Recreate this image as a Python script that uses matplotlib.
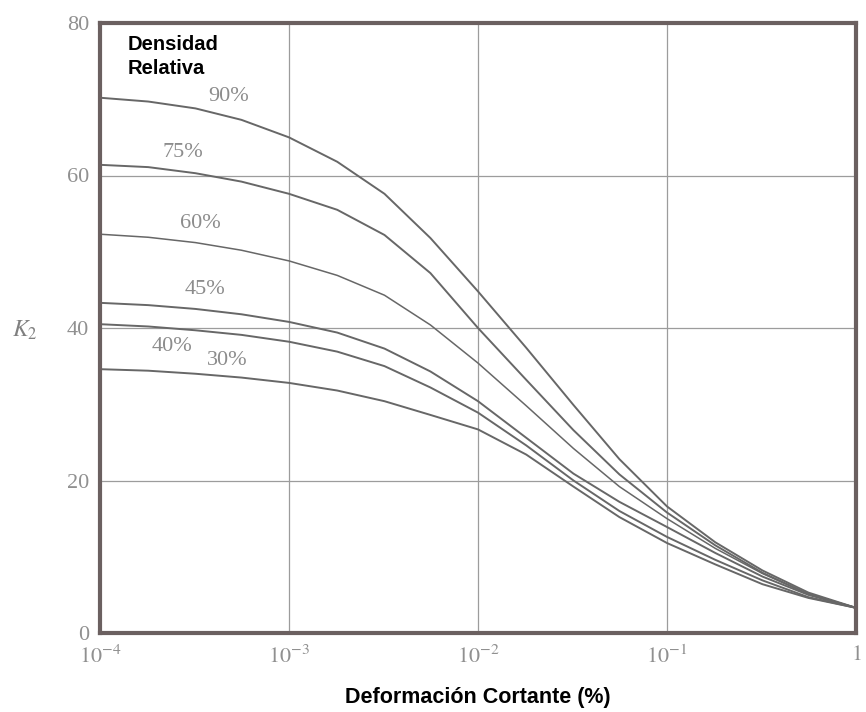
import matplotlib
matplotlib.use("Agg")
import matplotlib.pyplot as plt
from matplotlib.ticker import FixedLocator, NullLocator

plt.rcParams['mathtext.fontset'] = 'stix'
plt.rcParams['font.family'] = ['Liberation Serif', 'DejaVu Serif']

# shear strain (%) sample points
strain = [0.0001, 0.00018, 0.00032, 0.00056, 0.001, 0.0018, 0.0032, 0.0056,
          0.01, 0.018, 0.032, 0.056, 0.1, 0.18, 0.32, 0.56, 1.0]

k2_90 = [70.2, 69.7, 68.8, 67.3, 65.0, 61.8, 57.6, 51.8, 44.8, 37.4, 29.9, 22.8, 16.6, 11.9, 8.2, 5.3, 3.3]
k2_75 = [61.4, 61.1, 60.3, 59.2, 57.6, 55.5, 52.2, 47.2, 40.0, 33.2, 26.6, 20.8, 15.8, 11.5, 7.9, 5.1, 3.3]
k2_60 = [52.3, 51.9, 51.2, 50.2, 48.8, 46.9, 44.3, 40.4, 35.4, 29.8, 24.2, 19.2, 15.0, 11.1, 7.8, 5.1, 3.3]
k2_45 = [43.3, 43.0, 42.5, 41.8, 40.8, 39.4, 37.3, 34.3, 30.4, 25.6, 20.9, 17.2, 13.9, 10.5, 7.4, 5.0, 3.3]
k2_40 = [40.5, 40.2, 39.7, 39.1, 38.2, 36.9, 35.0, 32.2, 28.9, 24.6, 20.0, 16.0, 12.6, 9.6, 6.9, 4.7, 3.3]
k2_30 = [34.6, 34.4, 34.0, 33.5, 32.8, 31.8, 30.4, 28.6, 26.7, 23.4, 19.2, 15.2, 11.8, 9.0, 6.4, 4.6, 3.3]

series = [k2_90, k2_75, k2_60, k2_45, k2_40, k2_30]
curve_labels = ['90%', '75%', '60%', '45%', '40%', '30%']
label_x = [0.00048, 0.000275, 0.00034, 0.00036, 0.00024, 0.00047]
label_y = [70.3, 63.0, 53.7, 45.0, 37.6, 35.8]

xticks = [1e-4, 1e-3, 1e-2, 1e-1, 1]
xticklabels = [r'$10^{-4}$', r'$10^{-3}$', r'$10^{-2}$', r'$10^{-1}$', r'$1$']
yticks = [0, 20, 40, 60, 80]

fig = plt.figure(figsize=(8.66, 7.12), dpi=100)
ax = fig.add_axes([100/866, 1-633/712, 756/866, 610/712])
ax.set_xscale('log')
ax.set_xlim(1e-4, 1)
ax.set_ylim(0, 80)

grid_c = '#9c9c9c'
for xv in xticks[1:-1]:
    ax.axvline(xv, color=grid_c, lw=0.9, zorder=1)
for yv in yticks[1:-1]:
    ax.axhline(yv, color=grid_c, lw=0.9, zorder=1)

for i, s in enumerate(series):
    ax.plot(strain, s, color='#676767', lw=1.4 if i != 2 else 1.1, zorder=2,
            solid_joinstyle='round')

for t, xv, yv in zip(curve_labels, label_x, label_y):
    ax.text(xv, yv, t, ha='center', va='center', fontsize=16, color='#8c8c8c', zorder=3)

ax.xaxis.set_major_locator(FixedLocator(xticks))
ax.xaxis.set_minor_locator(NullLocator())
ax.set_xticklabels(xticklabels)
ax.set_yticks(yticks)
ax.tick_params(axis='both', length=0, labelsize=16, labelcolor='#909090')
ax.tick_params(axis='x', pad=9)
ax.tick_params(axis='y', pad=8)

for sp in ax.spines.values():
    sp.set_color('#6b6060')
    sp.set_linewidth(3.0)

ax.text(0.036, 0.98, 'Densidad\nRelativa', transform=ax.transAxes, ha='left', va='top',
        fontsize=14.5, fontweight='bold', family=['Liberation Sans', 'DejaVu Sans'],
        color='black', linespacing=1.3)

fig.text(25/866, 1-330/712, r'$K_2$', ha='center', va='center', fontsize=17, color='#808080')
fig.text(478/866, 1-697/712, 'Deformación Cortante (%)', ha='center', va='center',
         fontsize=15.5, fontweight='bold', family=['Liberation Sans', 'DejaVu Sans'], color='black')

fig.savefig('out.png', dpi=100)
